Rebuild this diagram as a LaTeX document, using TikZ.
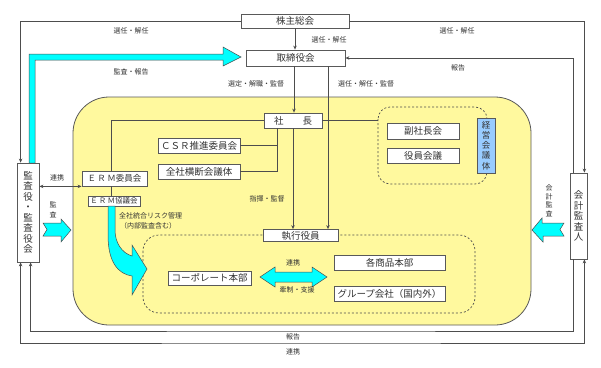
\documentclass[tikz,border=0pt]{standalone}
\usepackage{fontspec}
\newfontfamily\cjk{Noto Sans CJK JP}
\usetikzlibrary{arrows.meta}
\definecolor{lnc}{HTML}{4D4D4D}
\definecolor{bxc}{HTML}{595959}
\definecolor{txc}{HTML}{333333}
\definecolor{yelc}{HTML}{FFF99E}
\definecolor{cyc}{HTML}{00FFFF}
\definecolor{blc}{HTML}{99CCFF}
\tikzset{
  box/.style={draw=bxc, fill=white, line width=0.8pt, inner sep=0pt, text=txc,
    font=\cjk\fontsize{9.5}{11}\selectfont},
  smallbox/.style={box, font=\cjk\fontsize{7.5}{9}\selectfont},
  vbox/.style={box, align=center, font=\cjk\fontsize{9.5}{10.5}\selectfont},
  conn/.style={draw=lnc, line width=0.8pt, -{Stealth[length=4pt,width=3.5pt]}},
  dconn/.style={draw=lnc, line width=0.8pt, {Stealth[length=4pt,width=3.5pt]}-{Stealth[length=4pt,width=3.5pt]}},
  plain/.style={draw=lnc, line width=0.8pt},
  lab/.style={text=txc, inner sep=0pt, font=\cjk\fontsize{7}{8}\selectfont},
  vlab/.style={lab, align=center, font=\cjk\fontsize{7}{9.5}\selectfont},
  cyshape/.style={fill=cyc, draw=lnc, line width=0.5pt},
  dashbox/.style={draw=lnc, line width=0.7pt, dash pattern=on 2pt off 2pt}
}
\begin{document}
\begin{tikzpicture}[x=1pt,y=-1pt]
\useasboundingbox (0,0) rectangle (601,367);
\fill[white] (0,0) rectangle (601,367);

% yellow area
\draw[fill=yelc, draw=bxc, line width=0.8pt, rounded corners=36pt] (73,97) rectangle (531,325);

% dashed groups
\draw[dashbox, rounded corners=12pt] (378,107) rectangle (487,184);
\draw[dashbox, rounded corners=16pt] (143,235) rectangle (475,313);
\coordinate (mgmtL) at (378,120.5);

% big cyan L arrow
\draw[cyshape] (29,163) -- (29,54) -- (223,54) -- (223,47) -- (241,57) -- (223,66) -- (223,60) -- (35,60) -- (35,163) -- cycle;

% nodes
\node[box, minimum width=108pt, minimum height=14pt] (kabu) at (295,21) {株主総会};
\node[box, minimum width=99pt, minimum height=16pt] (tori) at (295.5,58) {取締役会};
\node[box, minimum width=58pt, minimum height=15pt] (shacho) at (293,120.5) {社　　長};
\node[box, minimum width=82pt, minimum height=15pt] (csr) at (199,145.5) {ＣＳＲ推進委員会};
\node[box, minimum width=82pt, minimum height=15pt] (zensha) at (199,171.5) {全社横断会議体};
\node[box, minimum width=65pt, minimum height=15pt, font=\cjk\fontsize{8.5}{10}\selectfont] (erm) at (114.5,178.5) {Ｅ\,Ｒ\,Ｍ委員会};
\node[smallbox, minimum width=52pt, minimum height=10pt] (ermk) at (114,201) {Ｅ\,Ｒ\,Ｍ協議会};
\node[vbox, minimum width=22pt, minimum height=99pt] (kansa) at (28,212.5) {監\\査\\役\\・\\監\\査\\役\\会};
\node[vbox, minimum width=17pt, minimum height=86pt] (kaikei) at (578.5,216) {会\\計\\監\\査\\人};
\node[box, minimum width=72pt, minimum height=16pt] (fuku) at (423,131) {副社長会};
\node[box, minimum width=72pt, minimum height=15pt] (yakuin) at (423,155.5) {役員会議};
\node[vbox, fill=blc, minimum width=18pt, minimum height=55pt, font=\cjk\fontsize{8.5}{10.25}\selectfont] (keiei) at (486,145.5) {経\\営\\会\\議\\体};
\node[box, minimum width=75pt, minimum height=12pt] (shikko) at (300.5,235.5) {執行役員};
\node[box, minimum width=83pt, minimum height=14pt] (corp) at (209.5,278) {コーポレート本部};
\node[box, minimum width=111pt, minimum height=15pt] (kaku) at (389.5,262.5) {各商品本部};
\node[box, minimum width=111pt, minimum height=15pt] (group) at (389.5,293.5) {グループ会社（国内外）};

% cyan shapes
\draw[cyshape] (43,223) -- (61,223) -- (61,219) -- (71,230) -- (61,242) -- (61,236) -- (43,236) -- (47,229.5) -- cycle;
\draw[cyshape] (532,230) -- (542,218) -- (542,223) -- (564,223) -- (560,229.5) -- (564,236) -- (543,236) -- (543,242) -- cycle;
\draw[cyshape] (108,206) -- (108,235) .. controls (108,262) and (118,274) .. (132,276) -- (132,295) -- (147,269) -- (132,245) -- (132,256) .. controls (122,253) and (115,243) .. (115,230) -- (115,206) -- cycle;
\draw[cyshape] (260,277) -- (275,267) -- (275,272) -- (312,272) -- (312,267) -- (327,277) -- (312,287) -- (312,282) -- (275,282) -- (275,287) -- cycle;

% connectors
\draw[conn] (kabu.west) -| ([xshift=4pt]kansa.north west);
\draw[conn] (kabu.east) -| ([xshift=-3pt]kaikei.north east);
\draw[conn] (kabu.south) -- (kabu.south |- tori.north);
\draw[conn] ([xshift=4pt]kaikei.north west) |- (tori.east);
\draw[conn] ([xshift=-1.5pt]tori.south) -- ([xshift=-1.5pt]tori.south |- shacho.north);
\draw[conn] ([xshift=32.5pt]tori.south) -- ([xshift=32.5pt]tori.south |- shikko.north);
\draw[conn] (shacho.south) -- (shacho.south |- shikko.north);
\draw[plain] ([xshift=-16pt]shacho.south) |- (zensha.east);
\draw[plain] (csr.east) -| ([xshift=-16pt]shacho.south);
\draw[plain] (shacho.west) -| ([xshift=-3.5pt]erm.north);
\draw[plain] ([xshift=-3.5pt]erm.south) -- ([xshift=-3.5pt]erm.south |- ermk.north);
\draw[plain] (shacho.east) -- (mgmtL);
\draw[dconn] (kansa.east |- erm.south west) -- (erm.south west);
\draw[conn] ([xshift=4pt]kaikei.south west) |- (300,331) -| ([xshift=14pt]kansa.south west);
\draw[dconn] ([xshift=4pt]kansa.south west) |- (300,343) -| ([xshift=-3pt]kaikei.south east);

% labels
\node[lab] at (131,31) {選任・解任};
\node[lab] at (131,72) {監査・報告};
\node[lab] at (329,40) {選任・解任};
\node[lab] at (256,84) {選定・解職・監督};
\node[lab] at (457,31) {選任・解任};
\node[lab] at (458,68) {報告};
\node[lab] at (366,84) {選任・解任・監督};
\node[lab] at (57,178) {連携};
\node[vlab] at (53,210) {監\\査};
\node[vlab, font=\cjk\fontsize{7}{8.5}\selectfont] at (549,201) {会\\計\\監\\査};
\node[lab] at (267,199) {指揮・監督};
\node[lab, anchor=west] at (119,216) {全社統合リスク管理};
\node[lab, anchor=west] at (120,226) {（内部監査含む）};
\node[lab] at (293,263) {連携};
\node[lab] at (297,290) {牽制・支援};
\node[lab] at (293,337) {報告};
\node[lab] at (293,352) {連携};
\end{tikzpicture}
\end{document}
